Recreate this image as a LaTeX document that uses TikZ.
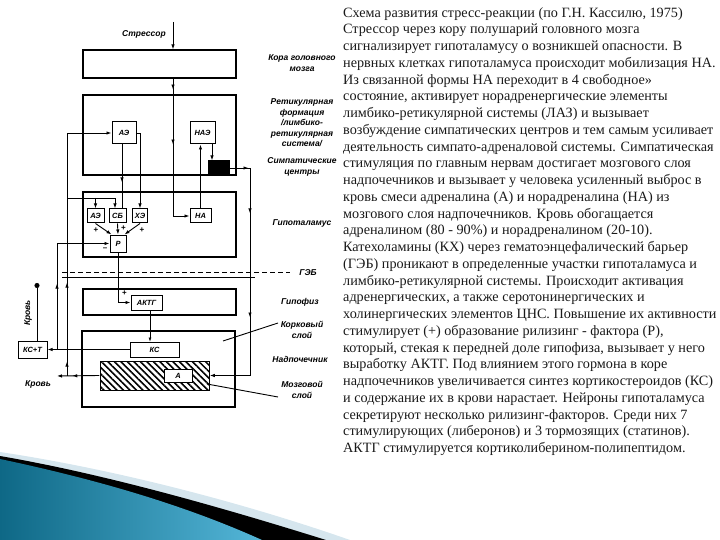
\documentclass[tikz,border=0pt]{standalone}
\usepackage{fontspec}
\setmainfont{Liberation Serif}
\newfontfamily\labfont{Liberation Sans}
\usetikzlibrary{arrows.meta,patterns.meta,decorations.markings,positioning}
\definecolor{swdark}{RGB}{14,104,134}
\definecolor{swlight}{RGB}{84,182,216}
\definecolor{swpale}{RGB}{214,230,238}

\begin{document}
\begin{tikzpicture}[x=1pt,y=-1pt, every node/.style={inner sep=0pt},
	blk/.style={draw, line width=1.1pt, minimum width=153pt},
	bx/.style={draw, line width=1pt, fill=white, font=\labfont\bfseries\itshape\fontsize{7.5}{8}\selectfont},
	lab/.style={font=\labfont\bfseries\itshape\fontsize{8.5}{10.5}\selectfont, align=center},
	sgn/.style={font=\labfont\bfseries\fontsize{8}{8}\selectfont},
	ln/.style={line width=0.9pt},
	arr/.style={ln, -{Latex[length=5pt,width=3.5pt]}},
	midarr/.style={postaction={decorate, decoration={markings, mark=at position #1 with {\arrow{Latex[length=5pt,width=3.5pt]}}}}}]
	\useasboundingbox (0,0) rectangle (720,540);
	% swoosh
	\fill[swpale] (0,452) .. controls (120,470) and (250,505) .. (350,540) -- (0,540) -- cycle;
	\fill[black] (0,456) .. controls (110,475) and (230,510) .. (326,540) -- (0,540) -- cycle;
	\shade[left color=swdark, right color=swlight] (0,459) .. controls (90,478) and (180,503) .. (262,540) -- (0,540) -- cycle;
	% levels
	\node[blk, minimum height=28pt] (cortex) at (159.5,64) {};
	\node[blk, minimum height=80pt] (retic) at (159.5,135) {};
	\node[blk, minimum height=65pt] (hypoth) at (159.5,224.5) {};
	\node[blk, minimum height=26pt] (hypoph) at (159.5,302) {};
	\node[blk, minimum height=76pt] (adrenal) at (158.5,369) {};
	\node[draw, line width=1pt, minimum width=109pt, minimum height=29pt, pattern={Lines[angle=-45,distance=4.6pt,line width=1.5pt]}] (medulla) at (154.5,375.5) {};
	% elements
	\node[bx, minimum width=24pt, minimum height=22pt] (AE1) at (124,133) {АЭ};
	\node[bx, minimum width=25pt, minimum height=22pt] (NAE) at (202.5,133) {НАЭ};
	\node[draw, line width=1pt, fill=black, minimum width=21pt, minimum height=14pt] (symp) at (218.5,168) {};
	\node[bx, minimum width=17pt, minimum height=14pt] (AE2) at (95.5,216) {АЭ};
	\node[bx, minimum width=17pt, minimum height=14pt] (SB) at (117.5,216) {СБ};
	\node[bx, minimum width=15pt, minimum height=14pt] (XE) at (140,216) {ХЭ};
	\node[bx, minimum width=21pt, minimum height=14pt] (NA) at (200.5,216) {НА};
	\node[bx, minimum width=16pt, minimum height=17pt] (P) at (118,243.5) {Р};
	\node[bx, minimum width=31pt, minimum height=15pt] (ACTH) at (146.5,302.5) {АКТГ};
	\node[bx, minimum width=49pt, minimum height=15pt] (KS) at (154.5,349.5) {КС};
	\node[bx, minimum width=28pt, minimum height=13pt] (A) at (178,375.5) {А};
	\node[bx, minimum width=29pt, minimum height=17pt] (KST) at (32.5,349.5) {КС+Т};
	% helper coordinates
	\coordinate (vx) at (173,0);
	\coordinate (rx) at (250,0);
	\coordinate (lx) at (67,0);
	\coordinate (kx) at (57,0);
	\coordinate (st) at (173,22);
	\coordinate (br) at (67,198);
	\coordinate (blood1) at (37,283);
	\coordinate (blood2) at (57,376);
	% connectors
	\draw[arr] (st) -- (st |- cortex.north);
	\draw[arr, midarr=11pt, midarr=66pt] (vx |- cortex.south) -- (vx |- NA.west) -- (NA.west);
	\draw[arr] (NA.north) -- (NA.north |- NAE.south);
	\draw[arr] ([xshift=9.5pt]NAE.south) -- ([xshift=9.5pt]NAE.south |- symp.north);
	\draw[ln, midarr=19pt, midarr=66pt, midarr=170pt, -{Latex[length=5pt,width=3.5pt]}] (symp.east) -- (rx |- symp.east) -- (rx |- medulla.east) -- (medulla.east);
	\draw[ln, midarr=38pt] ([xshift=-2pt]AE1.south) -- ([xshift=-2pt]AE1.south |- SB.north);
	\draw[arr] (AE1.east) -| (XE.north);
	\draw[arr, midarr=14pt, midarr=93pt] (lx |- medulla.west) -- (lx |- AE1.west) -- (AE1.west);
	\draw[arr] (br) -| ([xshift=-2.5pt]SB.north);
	\draw[arr] (br -| AE2.north) -- (AE2.north);
	\draw[arr, midarr=66pt] (kx |- KS.west) -- (kx |- P.west) -- (P.west);
	\draw[arr] (KS.west) -- (KST.east);
	\draw[ln, -{Circle[length=5pt]}] ([xshift=4.5pt]KST.north) -- (blood1);
	\draw[arr, midarr=27pt] (medulla.west) -- (blood2);
	\draw[arr] (AE2.south) -- ([xshift=2pt]P.north west);
	\draw[arr] (SB.south) -- (P.north);
	\draw[arr] (XE.south) -- ([xshift=-2pt]P.north east);
	\draw[arr] (P.south) |- (ACTH.west);
	\draw[line width=0.5pt, -{Latex[length=4pt,width=3pt]}] ([xshift=3.5pt]ACTH.south) -- ([xshift=3.5pt]ACTH.south |- KS.north);
	\draw[ln, dash pattern=on 5pt off 3pt] (62,272) -- (290,272);
	\draw[ln] (62,277) -- (255,277);
	\draw[ln] (278,323) -- (223,341);
	\draw[ln] (207,384) -- (278,397);
	% signs
	\node[sgn] (p1) at (96,230) {+};
	\node[sgn] (p2) at (123.5,228) {+};
	\node[sgn] (p3) at (142,230) {+};
	\node[sgn] (p4) at (124.5,293) {+};
	\node[sgn] (m1) at (105,249) {–};
	% labels
	\node[lab, anchor=east] (stl) at (166,34) {Стрессор};
	\node[lab] (l1) at (302,63) {Кора головного\\мозга};
	\node[lab] (l2) at (302,123) {Ретикулярная\\формация\\/лимбико-\\ретикулярная\\система/};
	\node[lab] (l3) at (302,167) {Симпатические\\центры};
	\node[lab] (l4) at (302,223) {Гипоталамус};
	\node[lab] (l5) at (308,273) {ГЭБ};
	\node[lab] (l6) at (300,302) {Гипофиз};
	\node[lab] (l7) at (302,330) {Корковый\\слой};
	\node[lab] (l8) at (300,359) {Надпочечник};
	\node[lab] (l9) at (302,390) {Мозговой\\слой};
	\node[lab] (b1) at (38,384) {Кровь};
	\node[lab, rotate=90] (b2) at (28,313) {Кровь};
	% text
	\node[anchor=north west, align=left, text=black!90, font=\fontsize{14.2}{16.75}\selectfont] (txt) at (343,7) {Схема развития стресс-реакции (по Г.Н. Кассилю, 1975)\\
		Стрессор через кору полушарий головного мозга\\
		сигнализирует гипоталамусу о возникшей опасности. В\\
		нервных клетках гипоталамуса происходит мобилизация НА.\\
		Из связанной формы НА переходит в 4 свободное»\\
		состояние, активирует норадренергические элементы\\
		лимбико-ретикулярной системы (ЛАЗ) и вызывает\\
		возбуждение симпатических центров и тем самым усиливает\\
		деятельность симпато-адреналовой системы. Симпатическая\\
		стимуляция по главным нервам достигает мозгового слоя\\
		надпочечников и вызывает у человека усиленный выброс в\\
		кровь смеси адреналина (А) и норадреналина (НА) из\\
		мозгового слоя надпочечников. Кровь обогащается\\
		адреналином (80 - 90\%) и норадреналином (20-10).\\
		Катехоламины (КХ) через гематоэнцефалический барьер\\
		(ГЭБ) проникают в определенные участки гипоталамуса и\\
		лимбико-ретикулярной системы. Происходит активация\\
		адренергических, а также серотонинергических и\\
		холинергических элементов ЦНС. Повышение их активности\\
		стимулирует (+) образование рилизинг - фактора (Р),\\
		который, стекая к передней доле гипофиза, вызывает у него\\
		выработку АКТГ. Под влиянием этого гормона в коре\\
		надпочечников увеличивается синтез кортикостероидов (КС)\\
		и содержание их в крови нарастает. Нейроны гипоталамуса\\
		секретируют несколько рилизинг-факторов. Среди них 7\\
		стимулирующих (либеронов) и 3 тормозящих (статинов).\\
		АКТГ стимулируется кортиколиберином-полипептидом.};
\end{tikzpicture}
\end{document}
